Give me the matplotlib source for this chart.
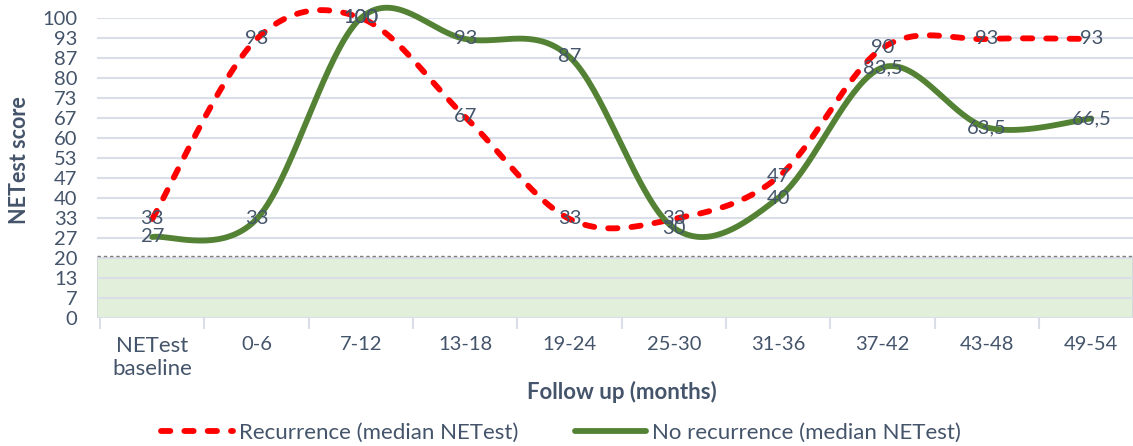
import matplotlib.pyplot as plt
import numpy as np
from matplotlib.patches import Rectangle

# ============================================================
# Data
# ============================================================

categories = ["NETest\nbaseline", "0-6", "7-12", "13-18", "19-24",
              "25-30", "31-36", "37-42", "43-48", "49-54"]

recurrence = [33, 93, 100, 67, 33, 33, 47, 90, 93, 93]
no_recurrence = [27, 33, 100, 93, 87, 30, 40, 83.5, 63.5, 66.5]

recurrence_labels = ["33", "93", "100", "67", "33", "33", "47", "90", "93", "93"]
no_recurrence_labels = ["27", "33", "100", "93", "87", "30", "40", "83,5", "63,5", "66,5"]

ytick_values = [i * 100 / 15 for i in range(16)]
ytick_labels = ["0", "7", "13", "20", "27", "33", "40", "47", "53", "60",
                "67", "73", "80", "87", "93", "100"]

normal_range_top = 20
threshold_line = 20.7

TEXT_COLOR = "#44546A"
GRID_COLOR = "#D9DEE8"
RED = "#FF0000"
GREEN = "#548235"
FS = 14.5      # numbers
FS_TEXT = 16   # words (Lato is wider on digits than Calibri, narrower on letters)

plt.rcParams["font.family"] = ["Lato", "DejaVu Sans"]


def smooth_line(xs, ys, steps=40):
    # Excel-style smoothed line: cubic bezier with catmull-rom control points
    pts = np.column_stack([xs, ys]).astype(float)
    padded = np.vstack([pts[0], pts, pts[-1]])
    out = [pts[0]]
    t = np.linspace(0, 1, steps)[1:, None]
    for i in range(len(pts) - 1):
        p0, p1, p2, p3 = padded[i], padded[i + 1], padded[i + 2], padded[i + 3]
        c1 = p1 + (p2 - p0) / 6
        c2 = p2 - (p3 - p1) / 6
        seg = ((1 - t) ** 3) * p1 + 3 * ((1 - t) ** 2) * t * c1 \
            + 3 * (1 - t) * t ** 2 * c2 + t ** 3 * p2
        out.extend(seg)
    out = np.array(out)
    return out[:, 0], out[:, 1]


# ============================================================
# Figure
# ============================================================

W, H = 1133, 446
fig = plt.figure(figsize=(W / 100, H / 100), dpi=100)

ax = fig.add_axes([97 / W, (H - 318) / H, (W - 97) / W, 300 / H])

x = np.arange(len(categories))

ax.set_xlim(-0.53, 9.40)
ax.set_ylim(0, 100)

# normal range band + threshold
ax.add_patch(Rectangle((-0.53, 0), 9.93, normal_range_top,
                       facecolor="#E2EFDA", edgecolor="#D0D5DC",
                       linewidth=1.2, zorder=1))
ax.axhline(threshold_line, color="#7F7F7F", linestyle=(0, (2.5, 2)),
           linewidth=1.0, zorder=2)

for v in ytick_values:
    ax.axhline(v, color=GRID_COLOR, linewidth=1.5, zorder=1.5)

rx, ry = smooth_line(x, recurrence)
gx, gy = smooth_line(x, no_recurrence)

ax.plot(rx, ry, color=RED, linewidth=4.2, linestyle=(0, (1.6, 2.4)),
        dash_capstyle="round", solid_capstyle="round", zorder=3,
        clip_on=False, label="Recurrence (median NETest)")
ax.plot(gx, gy, color=GREEN, linewidth=4.2, solid_capstyle="round",
        zorder=4, clip_on=False, label="No recurrence (median NETest)")

for xi, v, s in zip(x, recurrence, recurrence_labels):
    ax.text(xi, v, s, ha="center", va="center", fontsize=FS,
            color=TEXT_COLOR, zorder=5)
for xi, v, s in zip(x, no_recurrence, no_recurrence_labels):
    ax.text(xi, v, s, ha="center", va="center", fontsize=FS,
            color=TEXT_COLOR, zorder=5)

# axes styling
for side in ["top", "right", "left", "bottom"]:
    ax.spines[side].set_visible(False)

ax.set_yticks(ytick_values)
ax.set_yticklabels(ytick_labels)
ax.tick_params(axis="y", length=0, pad=14, labelsize=FS, labelcolor=TEXT_COLOR)

ax.set_xticks(x)
ax.set_xticklabels(categories, linespacing=1.2)
ax.tick_params(axis="x", length=0, pad=13, labelsize=FS, labelcolor=TEXT_COLOR)
ax.get_xticklabels()[0].set_fontsize(FS_TEXT)
ax.set_xticks(np.arange(len(categories)) - 0.5, minor=True)
ax.tick_params(axis="x", which="minor", length=8, width=1.5, color=GRID_COLOR)

ax.set_ylabel("NETest score", fontsize=FS_TEXT - 0.5, fontweight="bold",
              color=TEXT_COLOR)
ax.yaxis.set_label_coords(-77 / (W - 97), (318 - 160) / 300)
ax.set_xlabel("Follow up (months)", fontsize=FS_TEXT, fontweight="bold",
              color=TEXT_COLOR)
ax.xaxis.set_label_coords((622 - 97) / (W - 97), -(392 - 318) / 300)
ax.xaxis.label.set_va("center")
ax.yaxis.label.set_va("center")

fig.legend(loc="center", bbox_to_anchor=(561 / W, 1 - 433 / H), ncol=2,
           frameon=False, fontsize=FS_TEXT, labelcolor=TEXT_COLOR,
           handlelength=3.2, handletextpad=0.27, columnspacing=2.55)

fig.savefig("out.png", dpi=100)
